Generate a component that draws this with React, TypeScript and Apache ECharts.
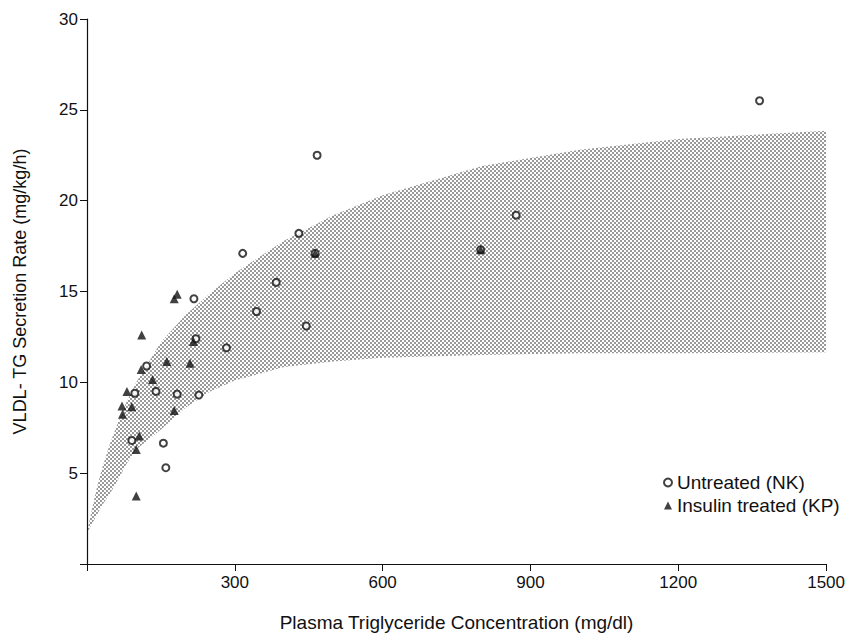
import React, { useEffect, useRef } from "react";
import * as echarts from "echarts";

// Untreated (NK): [plasma TG mg/dl, VLDL-TG secretion mg/kg/h]
const untreated: [number, number][] = [
  [91, 6.8], [97, 9.4], [121, 10.9], [140, 9.5], [155, 6.65], [160, 5.3],
  [183, 9.35], [217, 14.6], [221, 12.4], [227, 9.3], [283, 11.9], [316, 17.1],
  [344, 13.9], [384, 15.5], [430, 18.2], [445, 13.1], [463, 17.1], [467, 22.5],
  [799, 17.3], [871, 19.2], [1365, 25.5],
];

// Insulin treated (KP)
const insulin: [number, number][] = [
  [71, 8.7], [72, 8.25], [81, 9.5], [91, 8.65], [100, 6.3], [100, 3.75],
  [106, 7.05], [110, 10.7], [111, 12.6], [133, 10.15], [162, 11.15],
  [177, 14.6], [183, 14.85], [177, 8.45], [209, 11.05], [216, 12.25],
  [463, 17.1], [799, 17.3],
];

// Shaded band edges
const bandX = [0, 10, 20, 30, 45, 60, 80, 100, 150, 200, 250, 300, 400, 500, 600, 800, 1000, 1200, 1500];
const bandUpper = [1.7, 3.0, 4.2, 5.2, 6.5, 7.6, 8.9, 10.0, 12.2, 13.7, 14.9, 16.0, 17.8, 19.2, 20.3, 21.9, 22.8, 23.4, 23.85];
const bandLower = [1.7, 2.2, 2.7, 3.2, 3.8, 4.5, 5.5, 6.3, 7.4, 8.6, 9.5, 10.1, 10.85, 11.15, 11.35, 11.5, 11.6, 11.6, 11.65];

const xMin = 0, xMax = 1500, xStep = 300;
const yMin = 0, yMax = 30, yStep = 5;

const FONT = "'Liberation Sans', Arial, Helvetica, sans-serif";

function makePattern() {
  const c = document.createElement("canvas");
  c.width = 4;
  c.height = 4;
  const ctx = c.getContext("2d")!;
  ctx.fillStyle = "#111";
  ctx.beginPath();
  ctx.arc(1, 1, 0.8, 0, Math.PI * 2);
  ctx.closePath();
  ctx.moveTo(3.8, 3);
  ctx.arc(3, 3, 0.8, 0, Math.PI * 2);
  ctx.closePath();
  ctx.fill();
  return { image: c, repeat: "repeat", imageWidth: 4, imageHeight: 4 } as any;
}

export default function App() {
  const ref = useRef<HTMLDivElement>(null);
  useEffect(() => {
    document.body.style.margin = "0";
    const chart = echarts.init(ref.current!, null, { renderer: "svg" });
    const pattern = makePattern();
    const option: any = {
      animation: false,
      backgroundColor: "#fff",
      textStyle: { fontFamily: FONT, color: "#111" },
      grid: { left: 87, right: 20, top: 19, bottom: 67 },
      xAxis: {
        type: "value",
        min: xMin,
        max: xMax,
        interval: xStep,
        name: "Plasma Triglyceride Concentration (mg/dl)",
        nameLocation: "middle",
        nameGap: 49,
        nameTextStyle: { fontSize: 19, color: "#111", fontFamily: FONT },
        axisLine: { onZero: false, lineStyle: { color: "#111", width: 1.2 } },
        axisTick: { show: true, length: 7, lineStyle: { color: "#111" } },
        axisLabel: {
          fontSize: 17,
          color: "#111",
          margin: 10,
          fontFamily: FONT,
          formatter: (v: number) => (v === 0 ? "" : String(v)),
        },
        splitLine: { show: false },
      },
      yAxis: {
        type: "value",
        min: yMin,
        max: yMax,
        interval: yStep,
        name: "VLDL- TG Secretion Rate (mg/kg/h)",
        nameLocation: "middle",
        nameGap: 58,
        nameRotate: 90,
        nameTextStyle: { fontSize: 18, color: "#111", fontFamily: FONT },
        axisLine: { show: true, onZero: false, lineStyle: { color: "#111", width: 1.2 } },
        axisTick: { show: true, length: 7, lineStyle: { color: "#111" } },
        axisLabel: {
          fontSize: 17,
          color: "#111",
          margin: 9,
          fontFamily: FONT,
          formatter: (v: number) => (v === 0 ? "" : String(v)),
        },
        splitLine: { show: false },
      },
      legend: {
        orient: "vertical",
        left: 658,
        top: 467,
        itemWidth: 8,
        itemHeight: 8,
        itemGap: 2,
        textStyle: { fontSize: 19, color: "#111", fontFamily: FONT, lineHeight: 21 },
        data: [
          { name: "Untreated (NK)", icon: "emptyCircle" },
          { name: "Insulin treated (KP)", icon: "triangle" },
        ],
      },
      series: [
        {
          type: "custom",
          name: "band",
          silent: true,
          z: 1,
          data: [[0, 0]],
          renderItem: (params: any, api: any) => {
            const pts: number[][] = [];
            for (let i = 0; i < bandX.length; i++) pts.push(api.coord([bandX[i], bandUpper[i]]));
            for (let i = bandX.length - 1; i >= 0; i--) pts.push(api.coord([bandX[i], bandLower[i]]));
            return {
              type: "polygon",
              shape: { points: pts },
              style: { fill: pattern, stroke: null },
            };
          },
        },
        {
          type: "scatter",
          name: "Untreated (NK)",
          symbol: "emptyCircle",
          symbolSize: 7,
          z: 3,
          itemStyle: { color: "#111", borderColor: "#111", borderWidth: 1.1 },
          data: untreated,
        },
        {
          type: "scatter",
          name: "Insulin treated (KP)",
          symbol: "triangle",
          symbolSize: 9,
          z: 4,
          itemStyle: { color: "#111" },
          data: insulin,
        },
      ],
    };
    chart.setOption(option);
    return () => chart.dispose();
  }, []);
  return <div ref={ref} style={{ width: 848, height: 637 }} />;
}
